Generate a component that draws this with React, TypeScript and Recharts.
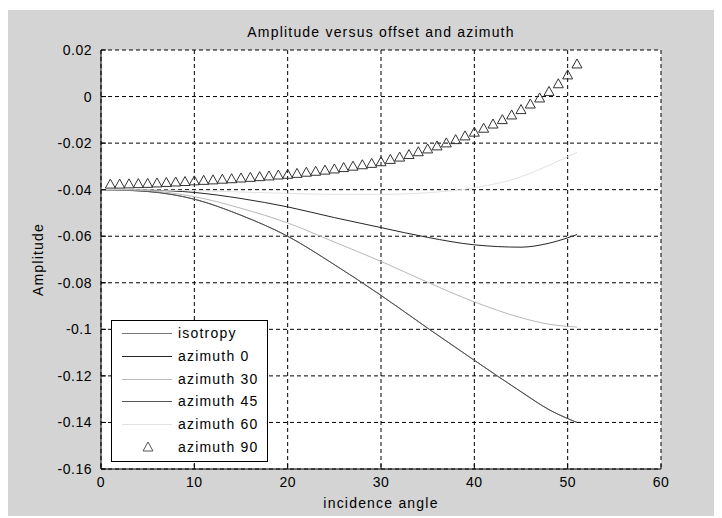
import { LineChart, Line, XAxis, YAxis, CartesianGrid, Legend } from 'recharts';

const angles = [0, 5, 10, 15, 20, 25, 30, 35, 40, 45, 48, 51];
const isotropy = [-0.04, -0.0408, -0.0441, -0.051, -0.06, -0.0722, -0.0854, -0.0995, -0.1133, -0.1268, -0.1345, -0.14];
const azimuth0 = [-0.04, -0.0402, -0.0412, -0.0438, -0.0474, -0.052, -0.0563, -0.0605, -0.0637, -0.0647, -0.063, -0.0593];
const azimuth30 = [-0.04, -0.0405, -0.043, -0.048, -0.0543, -0.0625, -0.0708, -0.0798, -0.0882, -0.095, -0.0978, -0.099];
const azimuth45 = [-0.04, -0.0408, -0.0441, -0.051, -0.06, -0.0722, -0.0854, -0.0995, -0.1133, -0.1268, -0.1345, -0.14];
const azimuth60 = [-0.04, -0.0401, -0.0404, -0.041, -0.0416, -0.042, -0.042, -0.0413, -0.0392, -0.0345, -0.0295, -0.024];

// azimuth 90 is drawn with markers only, one per degree
const markerAngles = [
  1, 2, 3, 4, 5, 6, 7, 8, 9, 10, 11, 12, 13, 14, 15, 16, 17, 18, 19, 20, 21, 22, 23, 24, 25, 26,
  27, 28, 29, 30, 31, 32, 33, 34, 35, 36, 37, 38, 39, 40, 41, 42, 43, 44, 45, 46, 47, 48, 49, 50, 51,
];
const azimuth90 = [
  -0.0376, -0.0376, -0.0375, -0.0374, -0.0373, -0.0371, -0.0369, -0.0367, -0.0365, -0.0362,
  -0.036, -0.0358, -0.0355, -0.0353, -0.035, -0.0347, -0.0344, -0.0341, -0.0337, -0.0334,
  -0.033, -0.0325, -0.0321, -0.0316, -0.0311, -0.0305, -0.0299, -0.0293, -0.0287, -0.028,
  -0.027, -0.026, -0.0249, -0.0237, -0.0225, -0.0212, -0.0199, -0.0185, -0.0169, -0.0153,
  -0.0136, -0.0118, -0.0099, -0.0079, -0.0056, -0.0032, -0.0006, 0.0022, 0.0055, 0.0093, 0.014,
];

const xTicks = [0, 10, 20, 30, 40, 50, 60];
const yTicks = [0.02, 0, -0.02, -0.04, -0.06, -0.08, -0.1, -0.12, -0.14, -0.16];

const toPoints = (xs: number[], ys: number[]) => xs.map((x, i) => ({ x, y: ys[i] }));

const curves = [
  { name: 'isotropy', values: isotropy, color: '#777777' },
  { name: 'azimuth 0', values: azimuth0, color: '#262626' },
  { name: 'azimuth 30', values: azimuth30, color: '#b8b8b8' },
  { name: 'azimuth 45', values: azimuth45, color: '#555555' },
  { name: 'azimuth 60', values: azimuth60, color: '#e2e2e2' },
];

const FONT = '"Liberation Sans", Arial, Helvetica, sans-serif';
const fmtY = (v: number) => String(Number(v.toFixed(2)));

const triangle = (cx: number, cy: number) =>
  `${cx},${cy - 5} ${cx - 5},${cy + 4} ${cx + 5},${cy + 4}`;

function LegendBox() {
  const rows = [...curves.map((c) => ({ name: c.name, color: c.color, marker: false })), { name: 'azimuth 90', color: '#555', marker: true }];
  return (
    <div
      style={{
        width: 157,
        height: 142,
        boxSizing: 'border-box',
        background: '#fff',
        border: '1px solid #000',
        position: 'relative',
        fontFamily: FONT,
        fontSize: 14,
        letterSpacing: 1.2,
        color: '#000',
      }}
    >
      {rows.map((r, i) => (
        <div key={r.name} style={{ position: 'absolute', left: 0, top: 1 + i * 22.8, height: 22, width: 155 }}>
          <svg width={60} height={22} style={{ position: 'absolute', left: 0, top: 0 }}>
            {r.marker ? (
              <polygon points={triangle(36, 11)} fill="none" stroke={r.color} strokeWidth={1} />
            ) : (
              <line x1={10} x2={60} y1={11.5} y2={11.5} stroke={r.color} strokeWidth={1} />
            )}
          </svg>
          <span style={{ position: 'absolute', left: 66, top: 2, lineHeight: '18px', whiteSpace: 'nowrap' }}>{r.name}</span>
        </div>
      ))}
    </div>
  );
}

export default function App() {
  const tickStyle = { fill: '#000', fontSize: 14, letterSpacing: 0.5, fontFamily: FONT };
  return (
    <div style={{ position: 'relative', top: 2, width: 714, height: 508, background: '#d4d4d4' }}>
      <div
        style={{
          position: 'absolute',
          left: 93,
          width: 560,
          top: 13,
          lineHeight: '18px',
          textAlign: 'center',
          fontFamily: FONT,
          fontSize: 14,
          letterSpacing: 1.2,
          color: '#000',
        }}
      >
        Amplitude versus offset and azimuth
      </div>
      <LineChart
        width={714}
        height={508}
        margin={{ top: 40, right: 61, bottom: 19, left: 53 }}
        style={{ fontFamily: FONT }}
      >
        <CartesianGrid fill="#fff" stroke="#000" strokeDasharray="4 3" />
        <XAxis
          dataKey="x"
          type="number"
          domain={[0, 60]}
          ticks={xTicks}
          height={30}
          tickSize={-5}
          tickMargin={13}
          tick={tickStyle}
          stroke="#000"
          allowDataOverflow
          label={{ value: 'incidence angle', position: 'bottom', offset: -1, fill: '#000', fontSize: 14, letterSpacing: 1.2 }}
        />
        <XAxis
          xAxisId="top"
          orientation="top"
          type="number"
          domain={[0, 60]}
          ticks={xTicks}
          height={0}
          tickSize={-5}
          tick={false}
          stroke="#000"
          allowDataOverflow
        />
        <YAxis
          type="number"
          domain={[-0.16, 0.02]}
          ticks={yTicks}
          width={40}
          tickSize={-5}
          tickMargin={14}
          tick={tickStyle}
          tickFormatter={fmtY}
          stroke="#000"
          allowDataOverflow
          label={{ value: 'Amplitude', angle: -90, position: 'insideLeft', offset: -23, fill: '#000', fontSize: 14, letterSpacing: 1.2, style: { textAnchor: 'middle' } }}
        />
        <YAxis
          yAxisId="right"
          orientation="right"
          type="number"
          domain={[-0.16, 0.02]}
          ticks={yTicks}
          width={0}
          tickSize={-5}
          tick={false}
          stroke="#000"
          allowDataOverflow
        />
        {curves.map((c) => (
          <Line
            key={c.name}
            name={c.name}
            data={toPoints(angles, c.values)}
            dataKey="y"
            type="monotone"
            stroke={c.color}
            strokeWidth={1}
            dot={false}
            activeDot={false}
            isAnimationActive={false}
          />
        ))}
        <Line
          name="azimuth 90"
          data={toPoints(markerAngles, azimuth90)}
          dataKey="y"
          stroke="none"
          activeDot={false}
          isAnimationActive={false}
          dot={(p: any) => (
            <polygon key={`tri-${p.index}`} points={triangle(p.cx, p.cy)} fill="none" stroke="#333" strokeWidth={1} />
          )}
        />
        <Legend
          layout="vertical"
          align="center"
          verticalAlign="middle"
          content={() => <LegendBox />}
          wrapperStyle={{ left: 103, top: 310, width: 157, height: 142 }}
        />
      </LineChart>
    </div>
  );
}
